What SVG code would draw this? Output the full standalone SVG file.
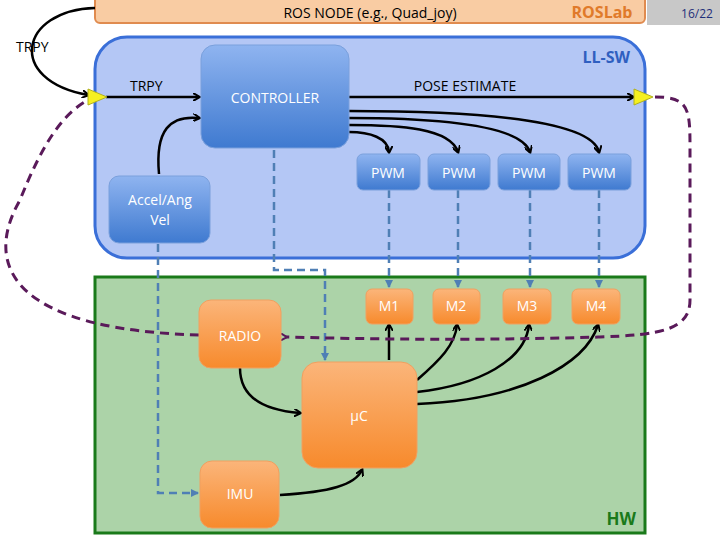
<svg xmlns="http://www.w3.org/2000/svg" width="720" height="540" viewBox="0 0 720 540">
<defs>
<linearGradient id="gb" x1="0" y1="0" x2="0" y2="1"><stop offset="0" stop-color="#8fb4f0"/><stop offset="1" stop-color="#3f7ad0"/></linearGradient>
<linearGradient id="go" x1="0" y1="0" x2="0" y2="1"><stop offset="0" stop-color="#fbb57a"/><stop offset="1" stop-color="#f78a2c"/></linearGradient>
<marker id="ak" markerWidth="8" markerHeight="8" refX="6" refY="4" orient="auto" markerUnits="userSpaceOnUse"><path d="M0,0 L7,4 L0,8" fill="none" stroke="#000" stroke-width="2"/></marker>
<marker id="ab" markerWidth="8" markerHeight="8" refX="7" refY="4" orient="auto" markerUnits="userSpaceOnUse"><path d="M0,0 L8,4 L0,8 z" fill="#4f7fb5"/></marker>
<marker id="ap" markerWidth="8" markerHeight="8" refX="2" refY="4" orient="auto" markerUnits="userSpaceOnUse"><path d="M7,0 L0,4 L7,8" fill="none" stroke="#5a1a5a" stroke-width="2"/></marker>
</defs>
<style>
text{font-family:"Open Sans","Liberation Sans",sans-serif;font-size:14px}
.w{fill:#fff;text-anchor:middle}
.b{fill:url(#gb);stroke:#7aa0dc;stroke-width:1}
.o{fill:url(#go);stroke:#f0a060;stroke-width:1}
.k{fill:none;stroke:#000;stroke-width:2.5;marker-end:url(#ak)}
.d{fill:none;stroke:#4f7fb5;stroke-width:2.5;stroke-dasharray:8,5}
.p{fill:none;stroke:#5a1a5a;stroke-width:3;stroke-dasharray:9,6}
</style>
<rect width="720" height="540" fill="#fff"/>
<g id="rosnode"><rect x="95" y="-5" width="550" height="28" rx="5" fill="#f9cca3" stroke="#e08b4f" stroke-width="2"/>
<text x="370" y="18" text-anchor="middle">ROS NODE (e.g., Quad_joy)</text>
<text x="602" y="18" text-anchor="middle" fill="#e07a2a" font-weight="bold" style="font-size:16px">ROSLab</text></g>
<g id="page"><rect x="647" y="0" width="73" height="25" fill="#c8c8c8"/><text x="697" y="18" text-anchor="middle" fill="#1f2f7a" style="font-size:12px">16/22</text></g>
<g id="llsw"><rect x="95" y="37" width="550" height="221" rx="32" fill="#b4c7f5" stroke="#3a6fd8" stroke-width="3"/>
<text x="630" y="63" text-anchor="end" fill="#2f5fc0" font-weight="bold" style="font-size:16px">LL-SW</text></g>
<g id="hw"><rect x="95" y="277" width="550" height="256" fill="#acd3a8" stroke="#1a7a1a" stroke-width="3"/>
<text x="636" y="525" text-anchor="end" fill="#1a7a1a" font-weight="bold" style="font-size:17px">HW</text></g>
<g id="connectors">
<path class="d" d="M274,150 V270 H325 V360" marker-end="url(#ab)"/>
<path class="d" d="M158,244 V493 H198" marker-end="url(#ab)"/>
<path class="d" d="M389,190 V287" marker-end="url(#ab)"/>
<path class="d" d="M458,190 V287" marker-end="url(#ab)"/>
<path class="d" d="M530,190 V287" marker-end="url(#ab)"/>
<path class="d" d="M599,190 V287" marker-end="url(#ab)"/>
<path class="k" d="M95,8 C20,10 5,80 88,95"/>
<path class="k" d="M106,97 H199"/>
<path class="k" d="M159,174 C155,130 170,115 199,118"/>
<path class="k" d="M349,97 H633"/>
<path class="k" d="M349,132 C370,132 388,138 389,152"/>
<path class="k" d="M349,125 C400,125 450,128 458,152"/>
<path class="k" d="M349,118 C420,118 520,122 530,152"/>
<path class="k" d="M349,111 C440,111 590,115 599,152"/>
<path class="k" d="M389,360 V325"/>
<path class="k" d="M417,380 C440,360 455,345 457,325"/>
<path class="k" d="M417,392 C480,385 525,360 529,325"/>
<path class="k" d="M417,404 C520,400 585,365 598,325"/>
<path class="k" d="M240,368 C240,395 260,410 300,413"/>
<path class="k" d="M280,495 C330,492 355,485 362,470"/>
<path class="p" d="M199,335 C20,330 -20,270 20,200 C40,150 60,115 88,100"/>
<path class="p" d="M655,97 C690,97 690,110 690,150 V300 C690,330 660,335 600,337 C500,340 400,340 285,337" marker-end="url(#ap)"/>
</g>
<g id="tri1"><path d="M88,89 L107,97 L88,105 z" fill="#f5f020" stroke="#b0b020"/></g>
<g id="tri2"><path d="M634,89 L653,97 L634,105 z" fill="#f5f020" stroke="#b0b020"/></g>
<text x="16" y="52" style="font-size:14px">TRPY</text>
<text x="130" y="91">TRPY</text>
<text x="465" y="91" text-anchor="middle">POSE ESTIMATE</text>
<g id="controller"><rect class="b" x="201" y="45" width="148" height="103" rx="14"/><text class="w" x="275" y="103">CONTROLLER</text></g>
<g id="accel"><rect class="b" x="109" y="176" width="101" height="67" rx="10"/><text class="w" x="160" y="205">Accel/Ang</text><text class="w" x="160" y="225">Vel</text></g>
<g id="pwm1"><rect class="b" x="357" y="154" width="63" height="36" rx="6"/><text class="w" x="388" y="178">PWM</text></g>
<g id="pwm2"><rect class="b" x="428" y="154" width="62" height="36" rx="6"/><text class="w" x="459" y="178">PWM</text></g>
<g id="pwm3"><rect class="b" x="498" y="154" width="62" height="36" rx="6"/><text class="w" x="529" y="178">PWM</text></g>
<g id="pwm4"><rect class="b" x="568" y="154" width="63" height="36" rx="6"/><text class="w" x="599" y="178">PWM</text></g>
<g id="m1"><rect class="o" x="366" y="289" width="47" height="35" rx="6"/><text class="w" x="389" y="311">M1</text></g>
<g id="m2"><rect class="o" x="433" y="289" width="47" height="35" rx="6"/><text class="w" x="456" y="311">M2</text></g>
<g id="m3"><rect class="o" x="503" y="289" width="48" height="35" rx="6"/><text class="w" x="527" y="311">M3</text></g>
<g id="m4"><rect class="o" x="572" y="289" width="48" height="35" rx="6"/><text class="w" x="596" y="311">M4</text></g>
<g id="radio"><rect class="o" x="199" y="300" width="82" height="68" rx="12"/><text class="w" x="240" y="341">RADIO</text></g>
<g id="uc"><rect class="o" x="302" y="362" width="115" height="106" rx="16"/><text class="w" x="359" y="421">µC</text></g>
<g id="imu"><rect class="o" x="200" y="461" width="79" height="67" rx="12"/><text class="w" x="240" y="499">IMU</text></g>
</svg>
